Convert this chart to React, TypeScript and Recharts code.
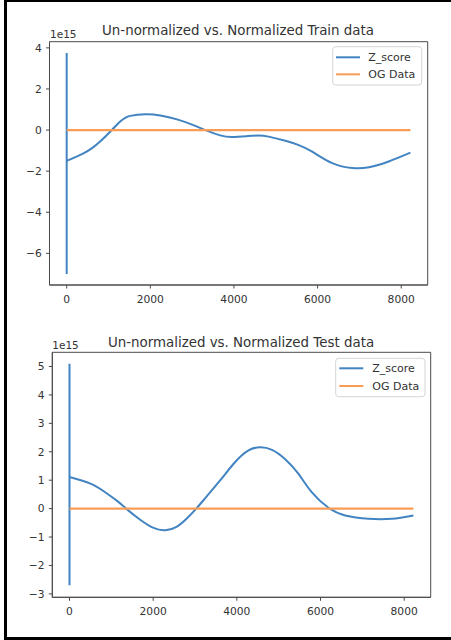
import { LineChart, Line, XAxis, YAxis, ReferenceArea } from 'recharts'

// Train data: smooth part of the Z_score curve (x = sample index, y in units of 1e15)
const trainX = [0, 400, 600, 800, 1080, 1280, 1400, 1520, 1880, 2240, 2640, 3030, 3350, 3670, 3950, 4300, 4590, 4830, 5230, 5550, 5870, 6350, 6830, 7230, 7700, 8220]
const trainZ = [-1.5, -1.13, -0.89, -0.56, 0, 0.42, 0.59, 0.69, 0.77, 0.71, 0.52, 0.24, -0.03, -0.26, -0.34, -0.3, -0.26, -0.32, -0.52, -0.73, -1.05, -1.61, -1.85, -1.81, -1.53, -1.1]
// the first few samples all sit at x = 0 and swing wildly
const trainSpike = [-7.0, -1.8, 3.75, -1.8, -1.5]

// Test data
const testX = [0, 500, 810, 1130, 1355, 1690, 2010, 2290, 2570, 2810, 3030, 3280, 3600, 3960, 4280, 4560, 4840, 5150, 5470, 5790, 6190, 6590, 7150, 7700, 8220]
const testZ = [1.11, 0.88, 0.62, 0.28, 0, -0.39, -0.68, -0.76, -0.63, -0.34, 0, 0.43, 0.99, 1.64, 2.05, 2.16, 2.07, 1.75, 1.23, 0.58, 0.03, -0.24, -0.36, -0.36, -0.24]
const testSpike = [5.1, 1.4, -2.7, 1.4, 1.1]

// OG data is ~0 on this scale
const ogX = [0, 8220]
const ogY = [0, 0]

const xTicks = [0, 2000, 4000, 6000, 8000]
const trainYTicks = [-6, -4, -2, 0, 2, 4]
const testYTicks = [-3, -2, -1, 0, 1, 2, 3, 4, 5]

const BLUE = '#4284c2'
const ORANGE = '#f89c56'
const AXIS = '#4a4a4a'
const TEXT = '#333'
const FONT = '"DejaVu Sans", sans-serif'

const legendItems = [
  { name: 'Z_score', color: BLUE },
  { name: 'OG Data', color: ORANGE }
]

const toPoints = (xs: number[], ys: number[]) => xs.map((x, i) => ({ x, y: ys[i] }))
const spikePoints = (ys: number[]) => ys.map((y) => ({ x: 0, y }))

const fmt = (v: number) => (v < 0 ? `\u2212${-v}` : `${v}`)

interface PanelProps {
  top: number
  curve: { x: number; y: number }[]
  spike: { x: number; y: number }[]
  yDomain: [number, number]
  xDomain: [number, number]
  yTicks: number[]
  margin: { top: number; right: number; bottom: number; left: number }
}

const Panel = ({ top, curve, spike, yDomain, xDomain, yTicks, margin }: PanelProps) => (
  <div style={{ position: 'absolute', left: 0, top }}>
    <LineChart width={451} height={320} margin={margin}>
      <XAxis
        dataKey="x"
        type="number"
        domain={xDomain}
        allowDataOverflow
        ticks={xTicks}
        height={30}
        tickSize={3.5}
        tickMargin={6.5}
        axisLine={{ stroke: AXIS }}
        tickLine={{ stroke: AXIS }}
        tick={{ fontSize: 10.7, fill: TEXT, fontFamily: FONT }}
      />
      <YAxis
        type="number"
        domain={yDomain}
        allowDataOverflow
        ticks={yTicks}
        width={40}
        tickSize={3.5}
        tickMargin={4.3}
        tickFormatter={fmt}
        axisLine={{ stroke: AXIS }}
        tickLine={{ stroke: AXIS }}
        tick={{ fontSize: 10.7, fill: TEXT, fontFamily: FONT }}
      />
      <Line data={spike} dataKey="y" type="linear" stroke={BLUE} strokeWidth={2} dot={false} isAnimationActive={false} />
      <Line data={curve} dataKey="y" type="natural" stroke={BLUE} strokeWidth={2} dot={false} isAnimationActive={false} />
      <Line data={toPoints(ogX, ogY)} dataKey="y" type="linear" stroke={ORANGE} strokeWidth={2.2} dot={false} isAnimationActive={false} />
      <ReferenceArea
        x1={xDomain[0]}
        x2={xDomain[1]}
        y1={yDomain[0]}
        y2={yDomain[1]}
        fill="none"
        stroke={AXIS}
        strokeWidth={1}
        ifOverflow="visible"
      />
    </LineChart>
  </div>
)

const LegendBox = ({ x, y, w, h, lineX, textX, rows }: { x: number; y: number; w: number; h: number; lineX: number; textX: number; rows: number[] }) => (
  <g>
    <rect x={x} y={y} width={w} height={h} rx={3} fill="rgba(255,255,255,0.8)" stroke="#d4d4d4" strokeWidth={1} />
    {legendItems.map((item, i) => (
      <g key={item.name}>
        <line x1={lineX} x2={lineX + 24} y1={rows[i]} y2={rows[i]} stroke={item.color} strokeWidth={2} />
        <text x={textX} y={rows[i]} dy="0.36em" fontSize={11} fill={TEXT} fontFamily={FONT}>
          {item.name}
        </text>
      </g>
    ))}
  </g>
)

export default function App() {
  return (
    <div style={{ position: 'absolute', left: 0, top: 0, width: 451, height: 640, background: '#fff', overflow: 'hidden' }}>
      <Panel
        top={0}
        curve={toPoints(trainX, trainZ)}
        spike={spikePoints(trainSpike)}
        xDomain={[-411, 8634]}
        yDomain={[-7.54, 4.3]}
        yTicks={trainYTicks}
        margin={{ top: 41.7, right: 23.3, bottom: 5, left: 9.5 }}
      />
      <Panel
        top={320}
        curve={toPoints(testX, testZ)}
        spike={spikePoints(testSpike)}
        xDomain={[-411, 8634]}
        yDomain={[-3.12, 5.5]}
        yTicks={testYTicks}
        margin={{ top: 32.3, right: 20.3, bottom: 12.7, left: 12.3 }}
      />

      <svg width={451} height={640} style={{ position: 'absolute', left: 0, top: 0, pointerEvents: 'none' }}>
        <text x={238} y={35} textAnchor="middle" fontSize={13.4} fill={TEXT} fontFamily={FONT}>
          Un-normalized vs. Normalized Train data
        </text>
        <text x={50} y={38} fontSize={10.5} fill={TEXT} fontFamily={FONT}>1e15</text>
        <LegendBox x={332.7} y={46.7} w={89} h={38.3} lineX={336} textX={368.3} rows={[57.3, 74.3]} />

        <text x={241} y={346.7} textAnchor="middle" fontSize={13.4} fill={TEXT} fontFamily={FONT}>
          Un-normalized vs. Normalized Test data
        </text>
        <text x={52.3} y={349} fontSize={10.5} fill={TEXT} fontFamily={FONT}>1e15</text>
        <LegendBox x={335.7} y={358.3} w={89.3} h={38.4} lineX={339.3} textX={372.3} rows={[368.3, 386]} />
      </svg>

      {/* page frame: left, top and bottom only */}
      <div style={{ position: 'absolute', left: 4, top: 0, width: 3, height: 640, background: '#000' }} />
      <div style={{ position: 'absolute', left: 4, top: 0, width: 447, height: 2, background: '#000' }} />
      <div style={{ position: 'absolute', left: 4, top: 637, width: 447, height: 3, background: '#000' }} />
    </div>
  )
}
